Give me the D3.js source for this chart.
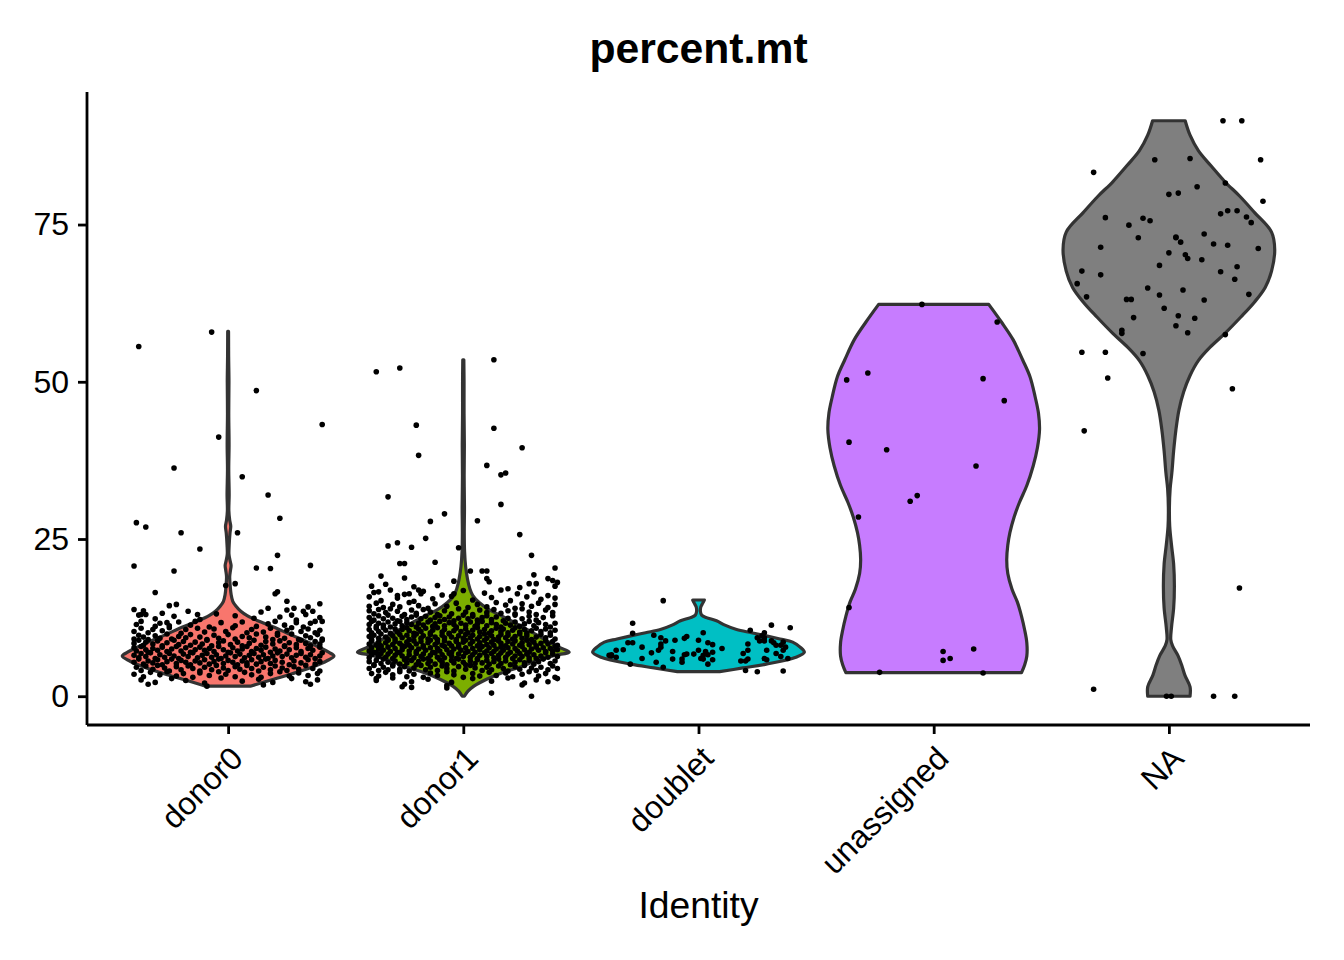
<!DOCTYPE html>
<html>
<head>
<meta charset="utf-8">
<script src="https://cdn.jsdelivr.net/npm/d3@7"></script>
<style>
  body { margin: 0; background: #fff; }
  text { font-family: "Liberation Sans", Arial, Helvetica, sans-serif; }
</style>
</head>
<body>
<div id="chart"></div>
<script>
// percent.mt by identity (Seurat VlnPlot look-alike)

var identities = ['donor0', 'donor1', 'doublet', 'unassigned', 'NA'];
var fillColors = ['#F8766D', '#7CAE00', '#00BFC4', '#C77CFF', '#7F7F7F'];
var yTicks = [0, 25, 50, 75];
var plotTitle = 'percent.mt';
var xTitle = 'Identity';

// violin outlines: [percent.mt, relative density (max = 1)]
var donor0Violin = [[1.6,0.21],[2.7,0.43],[3.8,0.65],[4.8,0.82],[5.6,0.93],[6.4,1.0],[7.0,0.95],[7.7,0.87],[8.8,0.73],[9.8,0.59],[11.0,0.43],[12.0,0.28],[12.8,0.18],[13.5,0.12],[14.3,0.075],[15.1,0.044],[16.2,0.028],[17.5,0.02],[19.0,0.015],[20.0,0.022],[20.8,0.028],[21.6,0.018],[22.6,0.008],[24.0,0.01],[26.0,0.018],[27.0,0.025],[28.0,0.015],[29.5,0.007],[32,0.01],[36,0.006],[40,0.009],[45,0.006],[50,0.008],[54,0.005],[58,0.004]];
var donor1Violin = [[0.0,0.01],[0.8,0.044],[1.6,0.1],[2.7,0.22],[3.8,0.38],[4.6,0.53],[5.2,0.62],[5.9,0.74],[6.5,0.86],[7.0,1.0],[7.6,0.93],[8.5,0.82],[9.8,0.69],[11.0,0.56],[12.0,0.45],[12.7,0.37],[13.8,0.24],[14.9,0.15],[16.0,0.09],[17.2,0.06],[18.6,0.04],[20.6,0.022],[23,0.012],[26,0.009],[30,0.011],[35,0.008],[40,0.01],[45,0.007],[50,0.007],[53.5,0.005]];
var doubletViolin = [[3.9,0.2],[4.5,0.42],[5.1,0.64],[6.2,0.92],[7.0,1.0],[7.8,0.96],[8.6,0.89],[9.1,0.77],[9.6,0.64],[10.1,0.5],[10.6,0.36],[11.3,0.25],[12.0,0.17],[12.5,0.075],[12.9,0.03],[13.5,0.018],[14.2,0.022],[14.8,0.04],[15.3,0.055]];
var unassignedViolin = [[3.75,0.83],[5.0,0.86],[6.4,0.88],[8.5,0.88],[10.5,0.86],[12.7,0.83],[15,0.79],[17.0,0.74],[19.5,0.7],[21.7,0.69],[24,0.7],[26.0,0.72],[28.5,0.76],[30.8,0.81],[33.5,0.88],[36.6,0.94],[39.5,0.98],[42.4,1.0],[45,0.99],[47.5,0.96],[50.8,0.91],[53.5,0.84],[56.7,0.75],[59.5,0.64],[62.3,0.52]];
var naViolin = [[0,0.2],[1.5,0.2],[3.4,0.15],[5,0.12],[6.5,0.085],[8,0.035],[9,0.018],[11,0.025],[14,0.045],[17.5,0.052],[21,0.045],[24,0.025],[27,0.008],[30,0.005],[33,0.012],[35.5,0.028],[39,0.045],[42.3,0.066],[45.5,0.095],[48.4,0.14],[51,0.2],[53.4,0.28],[55.5,0.39],[57.7,0.53],[60.3,0.68],[62.7,0.81],[65,0.91],[67.6,0.97],[71,1.0],[73.8,0.97],[76.9,0.81],[79.5,0.67],[81.8,0.53],[84.3,0.4],[86.7,0.28],[89.2,0.2],[91.5,0.154]];

// cells: [jitter in % of category width, percent.mt]
var donor0Points = [
[-38,55.6],[-7,57.9],[12,48.6],[40,43.2],[-4,41.2],[-23,36.3],[6,34.9],[17,32.0],[22,28.3],[-39,27.6],[-35,26.9],[-20,26.0],[4,26.0],[-12,23.4],[21,22.4],[-40,20.7],[-23,19.9],[12,20.4],[18,20.3],[35,20.8],[-1,17.6],[3,17.9],[-31,16.5],[20,16.3],[21,16.6],[25,15.1],[39,14.7],[-25,14.4],[-22,14.6],[17,14.0],[28,14.0],[34,14.2],[-37,13.0],[-35,13.0],[-13,13.0],[27,12.9],[32,13.5],[37,11.9],[-26,11.7],
[-38,12.9],[-36,13.6],[-31,12.3],[-28,13.2],[-23,12.7],[-17,13.5],[-12,12.2],[-5,13.1],[3,12.8],[11,12.4],[14,13.4],[22,12.6],[25,13.7],[29,12.1],[33,13.0],[36,13.5],[39,12.5],[-40,13.8],
[-39,11.4],[-37,11.9],[-31,11.1],[-29,11.6],[-25,11.2],[-21,11.8],[-16,11.3],[-14,11.9],[-8,11.0],[-3,11.7],[3,11.2],[6,11.8],[12,11.1],[17,11.5],[20,11.9],[24,11.3],[29,11.7],[32,11.0],[35,11.6],[40,11.9],
[-40,10.3],[-37,10.8],[-34,10.1],[-32,10.6],[-28,10.4],[-25,10.9],[-20,10.0],[-18,10.6],[-13,10.8],[-10,10.2],[-6,10.7],[-1,10.3],[2,10.9],[8,10.1],[10,10.6],[15,10.2],[18,10.8],[21,10.0],[25,10.5],[27,10.9],[31,10.3],[34,10.7],[37,10.1],[39,10.5],
[-40,9.1],[-38,9.7],[-36,9.4],[-34,9.0],[-31,9.6],[-29,9.2],[-26,9.9],[-24,9.1],[-21,9.5],[-18,9.3],[-16,9.8],[-12,9.4],[-9,9.0],[-6,9.7],[-4,9.2],[0,9.8],[3,9.1],[6,9.5],[9,9.3],[12,9.9],[16,9.4],[19,9.0],[21,9.7],[24,9.2],[27,9.9],[30,9.0],[33,9.6],[35,9.3],[38,9.8],[40,9.1],
[-40,8.4],[-38,8.9],[-36,8.1],[-35,8.6],[-32,8.3],[-30,8.8],[-28,8.0],[-26,8.5],[-23,8.9],[-21,8.2],[-19,8.7],[-16,8.1],[-14,8.6],[-11,8.3],[-9,8.9],[-7,8.0],[-4,8.5],[-2,8.8],[1,8.2],[4,8.6],[6,8.0],[9,8.4],[11,8.9],[14,8.1],[16,8.7],[19,8.3],[22,8.8],[24,8.0],[26,8.5],[29,8.2],[31,8.9],[33,8.4],[35,8.0],[37,8.7],[39,8.3],[40,8.9],
[-40,7.7],[-39,7.2],[-37,7.9],[-35,7.4],[-34,7.0],[-32,7.6],[-30,7.3],[-28,7.8],[-26,7.1],[-24,7.5],[-22,7.9],[-20,7.2],[-18,7.7],[-16,7.0],[-14,7.4],[-12,7.8],[-10,7.3],[-8,7.6],[-6,7.1],[-4,7.9],[-2,7.4],[0,7.0],[2,7.7],[4,7.2],[6,7.5],[8,7.9],[10,7.1],[12,7.6],[14,7.3],[16,7.8],[18,7.0],[20,7.5],[22,7.2],[24,7.9],[26,7.4],[29,7.7],[31,7.1],[34,7.6],[36,7.3],[39,7.8],
[-40,6.5],[-38,6.1],[-37,6.8],[-35,6.3],[-33,6.9],[-31,6.0],[-29,6.6],[-27,6.2],[-25,6.8],[-23,6.4],[-21,6.0],[-19,6.7],[-17,6.3],[-15,6.9],[-13,6.1],[-11,6.5],[-9,6.8],[-7,6.2],[-5,6.6],[-3,6.0],[-1,6.4],[1,6.9],[3,6.3],[5,6.7],[7,6.1],[9,6.5],[11,6.8],[13,6.2],[15,6.6],[17,6.0],[19,6.4],[21,6.9],[23,6.3],[25,6.7],[27,6.1],[29,6.5],[31,6.8],[33,6.2],[35,6.6],[37,6.0],[39,6.4],[40,6.9],
[-40,5.4],[-38,5.9],[-36,5.1],[-34,5.6],[-32,5.3],[-30,5.8],[-28,5.0],[-26,5.5],[-24,5.9],[-22,5.2],[-20,5.7],[-18,5.4],[-16,5.0],[-14,5.6],[-12,5.3],[-10,5.8],[-8,5.1],[-6,5.5],[-4,5.9],[-2,5.2],[0,5.7],[2,5.4],[4,5.0],[6,5.6],[8,5.3],[10,5.8],[12,5.1],[14,5.5],[16,5.9],[18,5.2],[20,5.7],[23,5.4],[26,5.0],[28,5.6],[31,5.3],[34,5.8],[37,5.1],[39,5.5],
[-39,4.6],[-37,4.1],[-35,4.8],[-32,4.3],[-30,4.9],[-27,4.5],[-25,4.0],[-22,4.7],[-20,4.2],[-17,4.8],[-15,4.4],[-12,4.0],[-10,4.6],[-7,4.2],[-5,4.9],[-2,4.5],[0,4.1],[3,4.7],[5,4.3],[8,4.9],[10,4.4],[13,4.0],[15,4.6],[18,4.2],[20,4.8],[23,4.5],[25,4.1],[28,4.7],[30,4.3],[33,4.9],[36,4.4],[39,4.0],
[-40,3.5],[-36,3.1],[-33,3.8],[-29,3.4],[-26,3.9],[-22,3.2],[-19,3.6],[-15,3.0],[-12,3.7],[-8,3.3],[-4,3.9],[-1,3.5],[3,3.1],[7,3.8],[10,3.4],[14,3.0],[18,3.6],[22,3.9],[26,3.2],[30,3.7],[34,3.3],[38,3.6],
[-37,2.6],[-31,2.2],[-24,2.8],[-18,2.5],[-10,2.1],[-3,2.9],[6,2.4],[13,2.7],[19,2.2],[27,2.8],[33,2.3],[38,2.6],
[-34,1.9],[-9,1.6],[15,1.8],[35,1.9]
];

var donor1Points = [
[-37,51.6],[-27,52.2],[13,53.5],[-20,43.1],[13,42.6],[-19,38.3],[25,39.5],[10,36.7],[16,35.2],[18,35.5],[-32,31.7],[16,30.5],[-8,29.0],[-14,27.8],[6,27.9],[24,25.7],[-32,23.9],[-28,24.4],[-22,23.7],[-16,25.1],[-2,23.6],[29,22.4],[-27,21.1],[-25,21.1],[-12,21.3],[-35,19.1],[-25,18.8],[8,19.9],[10,19.9],[10,18.7],[30,19.3],[36,18.7],[39,20.4],[38,18.4],[39,17.5],[11,18.2],[24,17.3],[31,17.9],[-36,16.6],[-21,17.4],[-19,16.9],[-28,16.0],[-23,16.3],[-18,16.3],[-4,16.3],[0,16.8],[12,0.5],[29,0.0],[25,1.8],[-22,1.4],[-7,1.7],[-7,1.3],[-37,2.8],[-26,1.5],[-25,1.9],
[-33,17.8],[-11,17.6],[-4,18.3],[3,19.9],[19,17.1],[28,17.9],[-39,17.5],[40,18.1],
[-40,15.8],[-38,16.5],[-35,15.2],[-31,16.9],[-28,15.6],[-25,16.2],[-21,15.1],[-17,16.7],[-13,15.5],[-9,16.1],[-5,15.9],[4,15.3],[9,16.4],[12,15.7],[16,16.9],[20,15.2],[23,16.3],[27,15.8],[30,16.6],[33,15.4],[36,16.0],[39,15.6],
[-40,14.3],[-37,14.8],[-34,14.1],[-30,14.6],[-27,14.2],[-23,14.9],[-19,14.4],[-15,14.0],[-12,14.7],[-7,14.3],[-3,14.8],[2,14.1],[6,14.6],[10,14.2],[14,14.9],[18,14.5],[22,14.0],[25,14.7],[29,14.3],[32,14.8],[36,14.1],[39,14.6],
[-40,13.6],[-38,13.1],[-36,13.8],[-33,13.3],[-31,13.9],[-28,13.5],[-25,13.0],[-22,13.7],[-20,13.2],[-17,13.8],[-14,13.4],[-11,13.0],[-8,13.6],[-5,13.1],[-2,13.9],[1,13.4],[4,13.0],[7,13.7],[10,13.3],[13,13.8],[16,13.2],[19,13.6],[22,13.1],[25,13.9],[28,13.4],[31,13.0],[35,13.7],[38,13.3],
[-40,12.5],[-38,12.1],[-36,12.8],[-34,12.3],[-32,12.9],[-30,12.4],[-28,12.0],[-26,12.7],[-24,12.2],[-22,12.6],[-20,12.9],[-18,12.3],[-16,12.7],[-14,12.1],[-12,12.5],[-10,12.8],[-8,12.2],[-6,12.6],[-4,12.0],[-2,12.4],[0,12.9],[2,12.3],[4,12.7],[6,12.1],[8,12.5],[10,12.8],[12,12.2],[14,12.6],[17,12.0],[19,12.4],[22,12.9],[25,12.3],[28,12.7],[31,12.1],[34,12.5],[38,12.8],
[-40,11.4],[-39,11.9],[-37,11.1],[-36,11.6],[-34,11.3],[-32,11.8],[-31,11.0],[-29,11.5],[-27,11.9],[-26,11.2],[-24,11.7],[-22,11.4],[-20,11.0],[-19,11.6],[-17,11.3],[-15,11.8],[-13,11.1],[-12,11.5],[-10,11.9],[-8,11.2],[-6,11.7],[-4,11.4],[-3,11.0],[-1,11.6],[1,11.3],[3,11.8],[5,11.1],[6,11.5],[8,11.9],[10,11.2],[12,11.7],[14,11.4],[16,11.0],[18,11.6],[20,11.3],[22,11.8],[24,11.1],[26,11.5],[28,11.9],[30,11.2],[32,11.7],[35,11.4],[37,11.0],[39,11.6],
[-40,10.6],[-39,10.1],[-37,10.8],[-36,10.3],[-34,10.9],[-33,10.5],[-31,10.0],[-29,10.7],[-28,10.2],[-26,10.6],[-24,10.9],[-23,10.4],[-21,10.0],[-19,10.7],[-18,10.3],[-16,10.8],[-14,10.1],[-13,10.5],[-11,10.9],[-9,10.2],[-8,10.6],[-6,10.0],[-4,10.4],[-3,10.8],[-1,10.3],[1,10.7],[2,10.1],[4,10.5],[6,10.9],[7,10.2],[9,10.6],[11,10.0],[12,10.4],[14,10.8],[16,10.3],[17,10.7],[19,10.1],[21,10.5],[22,10.9],[24,10.2],[26,10.6],[27,10.0],[29,10.4],[31,10.8],[33,10.3],[35,10.7],[37,10.1],[39,10.5],
[-40,9.5],[-39,9.0],[-38,9.7],[-36,9.2],[-35,9.9],[-33,9.4],[-32,9.0],[-30,9.6],[-29,9.1],[-27,9.8],[-26,9.3],[-24,9.7],[-23,9.0],[-21,9.5],[-20,9.9],[-18,9.2],[-17,9.6],[-15,9.1],[-14,9.8],[-12,9.4],[-11,9.0],[-9,9.7],[-8,9.3],[-6,9.9],[-5,9.4],[-3,9.0],[-2,9.6],[0,9.2],[1,9.8],[3,9.3],[4,9.7],[6,9.1],[7,9.5],[9,9.9],[10,9.2],[12,9.6],[13,9.0],[15,9.4],[16,9.8],[18,9.3],[19,9.7],[21,9.1],[22,9.5],[24,9.9],[25,9.2],[27,9.6],[29,9.0],[31,9.4],[33,9.8],[35,9.3],[37,9.7],[39,9.1],
[-40,8.3],[-39,8.8],[-37,8.1],[-36,8.6],[-35,8.0],[-33,8.5],[-32,8.9],[-30,8.2],[-29,8.7],[-27,8.4],[-26,8.0],[-24,8.6],[-23,8.1],[-21,8.8],[-20,8.3],[-18,8.7],[-17,8.0],[-15,8.5],[-14,8.9],[-12,8.2],[-11,8.6],[-9,8.1],[-8,8.8],[-6,8.4],[-5,8.0],[-3,8.7],[-2,8.2],[0,8.6],[1,8.9],[3,8.3],[4,8.7],[6,8.0],[7,8.5],[9,8.9],[10,8.2],[12,8.6],[13,8.1],[15,8.8],[16,8.4],[18,8.0],[19,8.7],[21,8.3],[22,8.8],[24,8.1],[25,8.5],[27,8.9],[28,8.2],[30,8.6],[31,8.0],[33,8.4],[35,8.8],[36,8.3],[38,8.7],[40,8.1],
[-40,7.2],[-39,7.7],[-38,7.0],[-36,7.5],[-35,7.9],[-34,7.3],[-32,7.8],[-31,7.1],[-29,7.6],[-28,7.0],[-26,7.4],[-25,7.9],[-23,7.2],[-22,7.7],[-20,7.1],[-19,7.5],[-17,7.8],[-16,7.3],[-14,7.7],[-13,7.0],[-11,7.6],[-10,7.2],[-8,7.9],[-7,7.4],[-5,7.0],[-4,7.5],[-2,7.8],[-1,7.3],[1,7.7],[2,7.1],[4,7.6],[5,7.0],[7,7.4],[8,7.9],[10,7.2],[11,7.7],[13,7.1],[14,7.5],[16,7.8],[17,7.3],[19,7.7],[20,7.0],[22,7.6],[23,7.2],[25,7.9],[26,7.4],[28,7.0],[29,7.5],[31,7.8],[32,7.3],[34,7.7],[35,7.1],[37,7.6],[38,7.2],[39,7.9],[40,7.4],
[-40,6.1],[-39,6.6],[-37,6.9],[-36,6.3],[-35,6.8],[-33,6.2],[-32,6.7],[-30,6.0],[-29,6.5],[-27,6.9],[-26,6.4],[-24,6.0],[-23,6.6],[-21,6.1],[-20,6.8],[-18,6.3],[-17,6.7],[-15,6.0],[-14,6.5],[-12,6.9],[-11,6.2],[-9,6.6],[-8,6.1],[-6,6.8],[-5,6.4],[-3,6.0],[-2,6.7],[0,6.3],[1,6.9],[3,6.2],[4,6.6],[6,6.0],[7,6.5],[9,6.9],[10,6.3],[12,6.8],[13,6.1],[15,6.5],[16,6.9],[18,6.2],[19,6.7],[21,6.0],[22,6.4],[24,6.8],[25,6.3],[27,6.7],[28,6.1],[30,6.6],[31,6.0],[33,6.4],[35,6.9],[36,6.2],[38,6.7],[40,6.3],
[-40,5.5],[-38,5.0],[-37,5.7],[-35,5.2],[-34,5.9],[-32,5.4],[-30,5.0],[-29,5.6],[-27,5.1],[-25,5.8],[-24,5.3],[-22,5.7],[-20,5.0],[-19,5.5],[-17,5.9],[-15,5.2],[-14,5.6],[-12,5.1],[-10,5.8],[-9,5.4],[-7,5.0],[-5,5.7],[-4,5.3],[-2,5.9],[0,5.4],[1,5.0],[3,5.6],[5,5.2],[6,5.8],[8,5.3],[10,5.7],[11,5.1],[13,5.5],[15,5.9],[16,5.2],[18,5.6],[20,5.0],[22,5.4],[24,5.8],[26,5.3],[28,5.7],[30,5.1],[32,5.5],[34,5.9],[37,5.2],[39,5.6],
[-40,4.4],[-38,4.9],[-36,4.1],[-34,4.6],[-32,4.2],[-30,4.8],[-27,4.3],[-25,4.7],[-23,4.0],[-21,4.5],[-18,4.9],[-16,4.2],[-14,4.6],[-11,4.1],[-9,4.8],[-7,4.4],[-4,4.0],[-2,4.7],[1,4.3],[3,4.9],[5,4.5],[8,4.1],[10,4.6],[12,4.2],[15,4.8],[17,4.4],[19,4.0],[22,4.7],[24,4.3],[26,4.9],[29,4.5],[31,4.1],[33,4.6],[36,4.2],[38,4.8],[40,4.4],
[-39,3.6],[-36,3.2],[-33,3.8],[-30,3.4],[-27,3.9],[-24,3.1],[-21,3.5],[-17,3.0],[-14,3.7],[-11,3.3],[-7,3.9],[-4,3.4],[0,3.0],[4,3.6],[7,3.2],[11,3.8],[14,3.3],[18,3.7],[21,3.1],[25,3.5],[28,3.9],[32,3.2],[35,3.6],[39,3.0],
[-37,2.5],[-30,2.9],[-22,2.3],[-15,2.7],[-5,2.2],[4,2.8],[12,2.4],[19,2.9],[26,2.1],[31,2.6],[36,2.3],[40,2.8]
];

var doubletPoints = [[-15,15.2],[-28,11.6],[-28,10.0],[-28,8.5],[-30,8.5],[-19,9.7],[-16,9.3],[-16,8.3],[-14,8.8],[-17,7.3],[-16,7.8],[-10,8.9],[-6,9.2],[-5,9.5],[2,10.1],[0,8.9],[4,8.5],[6,8.2],[3,7.1],[10,7.6],[-24,7.8],[-32,7.4],[-35,7.3],[-37,6.6],[-38,6.5],[-35,6.2],[-37,6.4],[-20,6.9],[-11,7.1],[-11,5.9],[-6,6.6],[-5,6.7],[-2,6.7],[0,7.3],[2,6.5],[4,6.6],[1,6.0],[2,5.9],[-7,5.9],[-7,5.4],[-24,6.0],[-29,5.1],[-18,5.4],[-15,4.6],[6,7.0],[6,5.8],[4,5.1],[19,6.8],[18,5.6],[20,5.6],[21,5.9],[22,10.5],[21,8.3],[21,7.3],[25,9.3],[26,8.8],[27,9.6],[28,10.1],[28,9.3],[28,8.8],[31,11.3],[31,8.8],[32,8.5],[33,8.1],[35,8.1],[36,8.6],[37,7.8],[36,7.3],[39,10.9],[29,7.3],[28,6.0],[29,5.8],[33,6.8],[35,6.3],[38,6.0],[20,4.1],[25,3.9],[36,4.0]];

var unassignedPoints = [[-5,62.3],[27,59.5],[-28,51.4],[-37,50.3],[21,50.5],[30,47.0],[-36,40.4],[-20,39.2],[18,36.6],[-7,31.9],[-10,31.0],[-32,28.5],[-36,14.1],[4,7.1],[4,5.7],[7,6.0],[17,7.5],[-23,3.8],[21,3.7]];

var naPoints = [[23,91.5],[31,91.5],[-6,85.3],[9,85.5],[39,85.3],[-32,83.3],[12,81.0],[24,81.6],[0,79.8],[4,80.0],[40,78.7],[22,76.7],[25,77.2],[29,77.2],[33,76.2],[35,75.3],[-27,76.1],[-17,74.9],[-11,76.0],[-8,75.6],[-13,72.9],[3,73.0],[3,72.9],[5,72.2],[15,73.5],[19,71.9],[25,71.7],[38,71.2],[-29,71.4],[0,70.5],[7,70.2],[8,69.6],[14,69.4],[-4,68.5],[-37,67.6],[-29,67.0],[22,67.5],[29,68.3],[28,66.3],[-39,65.6],[-9,64.9],[6,64.6],[-35,63.5],[-18,63.1],[-16,63.1],[-4,63.8],[15,63.0],[34,63.9],[-2,61.7],[-15,60.2],[4,60.5],[11,60.1],[3,58.9],[-20,58.2],[-20,57.7],[8,57.8],[24,57.5],[-37,54.7],[-27,54.7],[-11,54.5],[-26,50.6],[27,48.9],[-36,42.2],[30,17.2],[-32,1.1],[-1,0],[1,0],[19,0],[28,0]];

var violins = [donor0Violin, donor1Violin, doubletViolin, unassignedViolin, naViolin];
var cells = [donor0Points, donor1Points, doubletPoints, unassignedPoints, naPoints];

var width = 1344;
var height = 960;
var margin = {top: 92, right: 34, bottom: 235, left: 87};

var svg = d3.select('#chart').append('svg')
    .attr('width', width)
    .attr('height', height);

var x = d3.scalePoint()
    .domain(identities)
    .range([margin.left, width - margin.right])
    .padding(0.6);
var step = x.step();

// y range = data range with 5% expansion, like ggplot
var allValues = [];
cells.forEach(function (c) { c.forEach(function (d) { allValues.push(d[1]); }); });
var yMin = d3.min(allValues), yMax = d3.max(allValues);
var pad = (yMax - yMin) * 0.05;
var y = d3.scaleLinear()
    .domain([yMin - pad, yMax + pad])
    .range([height - margin.bottom, margin.top]);

var halfWidth = step * 0.45;

// violins
var violinLayer = svg.append('g');
identities.forEach(function (id, i) {
    var cx = x(id);
    var area = d3.area()
        .curve(d3.curveCatmullRom.alpha(0.5))
        .y(function (d) { return y(d[0]); })
        .x0(function (d) { return cx - d[1] * halfWidth; })
        .x1(function (d) { return cx + d[1] * halfWidth; });
    violinLayer.append('path')
        .datum(violins[i])
        .attr('d', area)
        .attr('fill', fillColors[i])
        .attr('stroke', '#333333')
        .attr('stroke-width', 3.2)
        .attr('stroke-linejoin', 'round');
});

// jittered cells
var pointLayer = svg.append('g');
identities.forEach(function (id, i) {
    var cx = x(id);
    pointLayer.append('g').selectAll('circle')
        .data(cells[i])
        .join('circle')
        .attr('cx', function (d) { return cx + d[0] / 100 * step; })
        .attr('cy', function (d) { return y(d[1]); })
        .attr('r', 2.8)
        .attr('fill', '#000');
});

// y axis
var yAxis = svg.append('g')
    .attr('transform', 'translate(' + margin.left + ',0)')
    .call(d3.axisLeft(y).tickValues(yTicks).tickSize(9).tickPadding(9));
yAxis.select('.domain').attr('stroke', '#000').attr('stroke-width', 2.8)
    .attr('d', 'M0,' + margin.top + 'V' + (height - margin.bottom));
yAxis.selectAll('.tick line').attr('stroke', '#000').attr('stroke-width', 2.8);
yAxis.selectAll('.tick text')
    .attr('fill', '#000')
    .attr('font-size', 32)
    .attr('font-family', '"Liberation Sans", Arial, Helvetica, sans-serif');

// x axis
var xAxis = svg.append('g')
    .attr('transform', 'translate(0,' + (height - margin.bottom) + ')')
    .call(d3.axisBottom(x).tickSize(9).tickSizeOuter(0));
xAxis.select('.domain').attr('stroke', '#000').attr('stroke-width', 2.8)
    .attr('d', 'M' + margin.left + ',0H' + (width - margin.right));
xAxis.selectAll('.tick line').attr('stroke', '#000').attr('stroke-width', 2.8);
xAxis.selectAll('.tick text')
    .attr('fill', '#000')
    .attr('font-size', 32)
    .attr('font-family', '"Liberation Sans", Arial, Helvetica, sans-serif')
    .attr('text-anchor', 'end')
    .attr('x', 0)
    .attr('y', 0)
    .attr('dy', '0.72em')
    .attr('transform', 'translate(0,19) rotate(-45)');

// titles
svg.append('text')
    .attr('x', (margin.left + width - margin.right) / 2)
    .attr('y', 63)
    .attr('text-anchor', 'middle')
    .attr('font-size', 42.7)
    .attr('font-weight', 'bold')
    .text(plotTitle);

svg.append('text')
    .attr('x', (margin.left + width - margin.right) / 2)
    .attr('y', 918)
    .attr('text-anchor', 'middle')
    .attr('font-size', 37.3)
    .text(xTitle);
</script>
</body>
</html>
